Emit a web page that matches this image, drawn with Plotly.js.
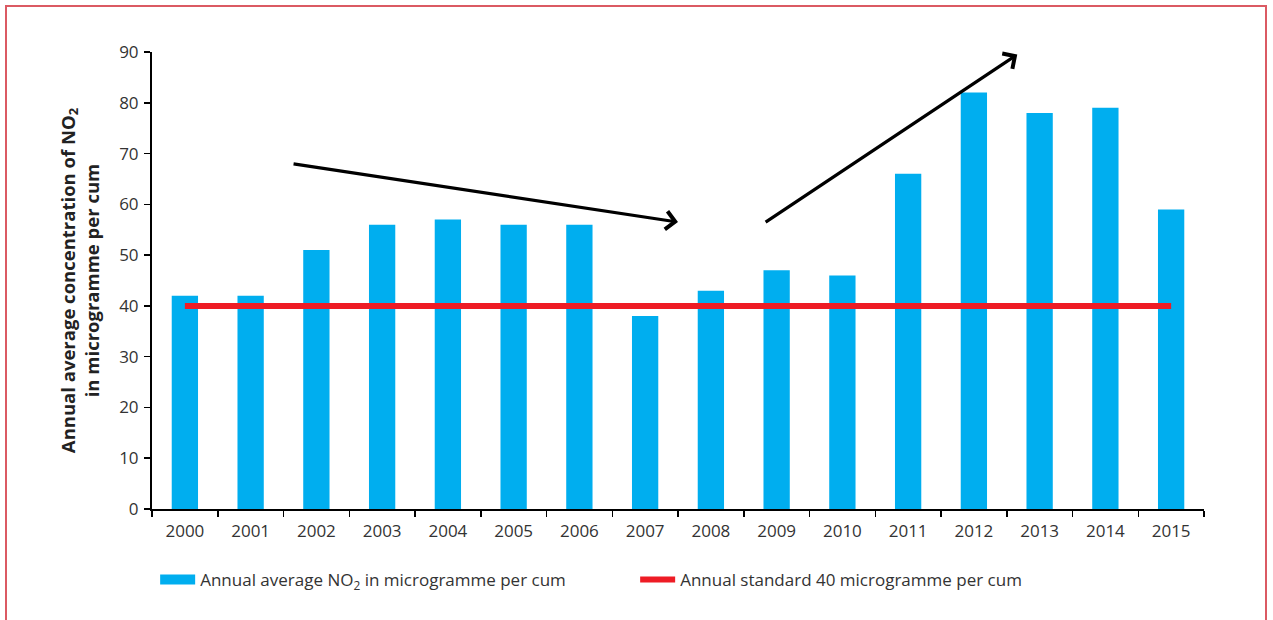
<!DOCTYPE html>
<html>
<head>
<meta charset="utf-8">
<script src="https://cdn.plot.ly/plotly-3.0.1.min.js"></script>
<style>
  html, body { margin: 0; padding: 0; background: #fff; }
  #wrap { position: relative; width: 1273px; height: 620px; overflow: hidden; }
  #chart { position: absolute; left: 0; top: 0; width: 1273px; height: 620px; }
  #frame { position: absolute; left: 5px; top: 5px; width: 1262px; height: 700px;
           border: 2px solid #db5a63; pointer-events: none; box-sizing: border-box; }
</style>
</head>
<body>
<div id="wrap">
  <div id="chart"></div>
  <div id="frame"></div>
</div>
<script>
const years = ["2000","2001","2002","2003","2004","2005","2006","2007","2008","2009","2010","2011","2012","2013","2014","2015"];
const annualNO2 = [42, 42, 51, 56, 57, 56, 56, 38, 43, 47, 46, 66, 82, 78, 79, 59];
const annualStandard = [40, 40, 40, 40, 40, 40, 40, 40, 40, 40, 40, 40, 40, 40, 40, 40];
const yTicks = [0, 10, 20, 30, 40, 50, 60, 70, 80, 90];
// trend arrows (category index, value): [startX, startY, endX, endY]
const trendDown = [1.63, 68, 7.5, 56.5];
const trendUp = [8.81, 56.3, 12.66, 89.5];

const font = "'Open Sans', 'Noto Sans', sans-serif";
const textColor = "#333333";
const barColor = "#00aeef";
const lineColor = "#ee1c25";
const no2Name = "Annual average NO<sub>2</sub> in microgramme per cum";

const traces = [
  {
    type: "bar",
    x: years,
    y: annualNO2,
    name: no2Name,
    showlegend: false,
    legendgroup: "no2",
    marker: { color: barColor, line: { width: 0 } },
    width: 0.4,
    hoverinfo: "x+y"
  },
  {
    // legend key only (wide rectangle like the reference)
    type: "scatter",
    mode: "lines",
    x: [null],
    y: [null],
    name: no2Name,
    legendgroup: "no2",
    line: { color: barColor, width: 12 },
    hoverinfo: "skip"
  },
  {
    type: "scatter",
    mode: "lines",
    x: years,
    y: annualStandard,
    name: "Annual standard 40 microgramme per cum",
    line: { color: lineColor, width: 6 },
    hoverinfo: "x+y"
  }
];

function arrow(a) {
  return {
    x: a[2], y: a[3], ax: a[0], ay: a[1],
    xref: "x", yref: "y", axref: "x", ayref: "y",
    showarrow: true, arrowhead: 4, arrowsize: 1.1, arrowwidth: 3.2,
    arrowcolor: "#000000", standoff: 0, startstandoff: 0, text: ""
  };
}

const layout = {
  width: 1273,
  height: 620,
  margin: { l: 152, r: 69, t: 52, b: 111 },
  paper_bgcolor: "#ffffff",
  plot_bgcolor: "#ffffff",
  font: { family: font, color: textColor, size: 17 },
  showlegend: true,
  legend: {
    orientation: "h",
    x: 0.003, xanchor: "left",
    y: -0.155, yanchor: "middle",
    font: { family: font, size: 17, color: textColor },
    entrywidth: 430, entrywidthmode: "pixels",
    itemwidth: 35,
    traceorder: "normal"
  },
  xaxis: {
    type: "category",
    range: [-0.5, 15.5],
    showline: true, linecolor: "#000000", linewidth: 2,
    ticks: "outside", tickson: "boundaries", ticklen: 6, tickwidth: 1.5, tickcolor: "#000000",
    showgrid: false, zeroline: false,
    ticklabelstandoff: 6,
    tickfont: { family: font, size: 17, color: textColor },
    fixedrange: true
  },
  yaxis: {
    range: [0, 90],
    tickvals: yTicks,
    ticktext: yTicks.map(String),
    showline: true, linecolor: "#000000", linewidth: 2,
    ticks: "outside", ticklen: 6, tickwidth: 1.5, tickcolor: "#000000",
    showgrid: false, zeroline: false,
    ticklabelstandoff: 2,
    tickfont: { family: font, size: 17, color: textColor },
    title: {
      text: "<b>Annual average concentration of NO<sub>2</sub><br>in microgramme per cum</b>",
      font: { family: font, size: 18.5, color: "#222222" },
      standoff: 15
    },
    automargin: false,
    fixedrange: true
  },
  bargap: 0.6,
  annotations: [arrow(trendDown), arrow(trendUp)]
};

Plotly.newPlot("chart", traces, layout, { displayModeBar: false, staticPlot: true });
</script>
</body>
</html>
